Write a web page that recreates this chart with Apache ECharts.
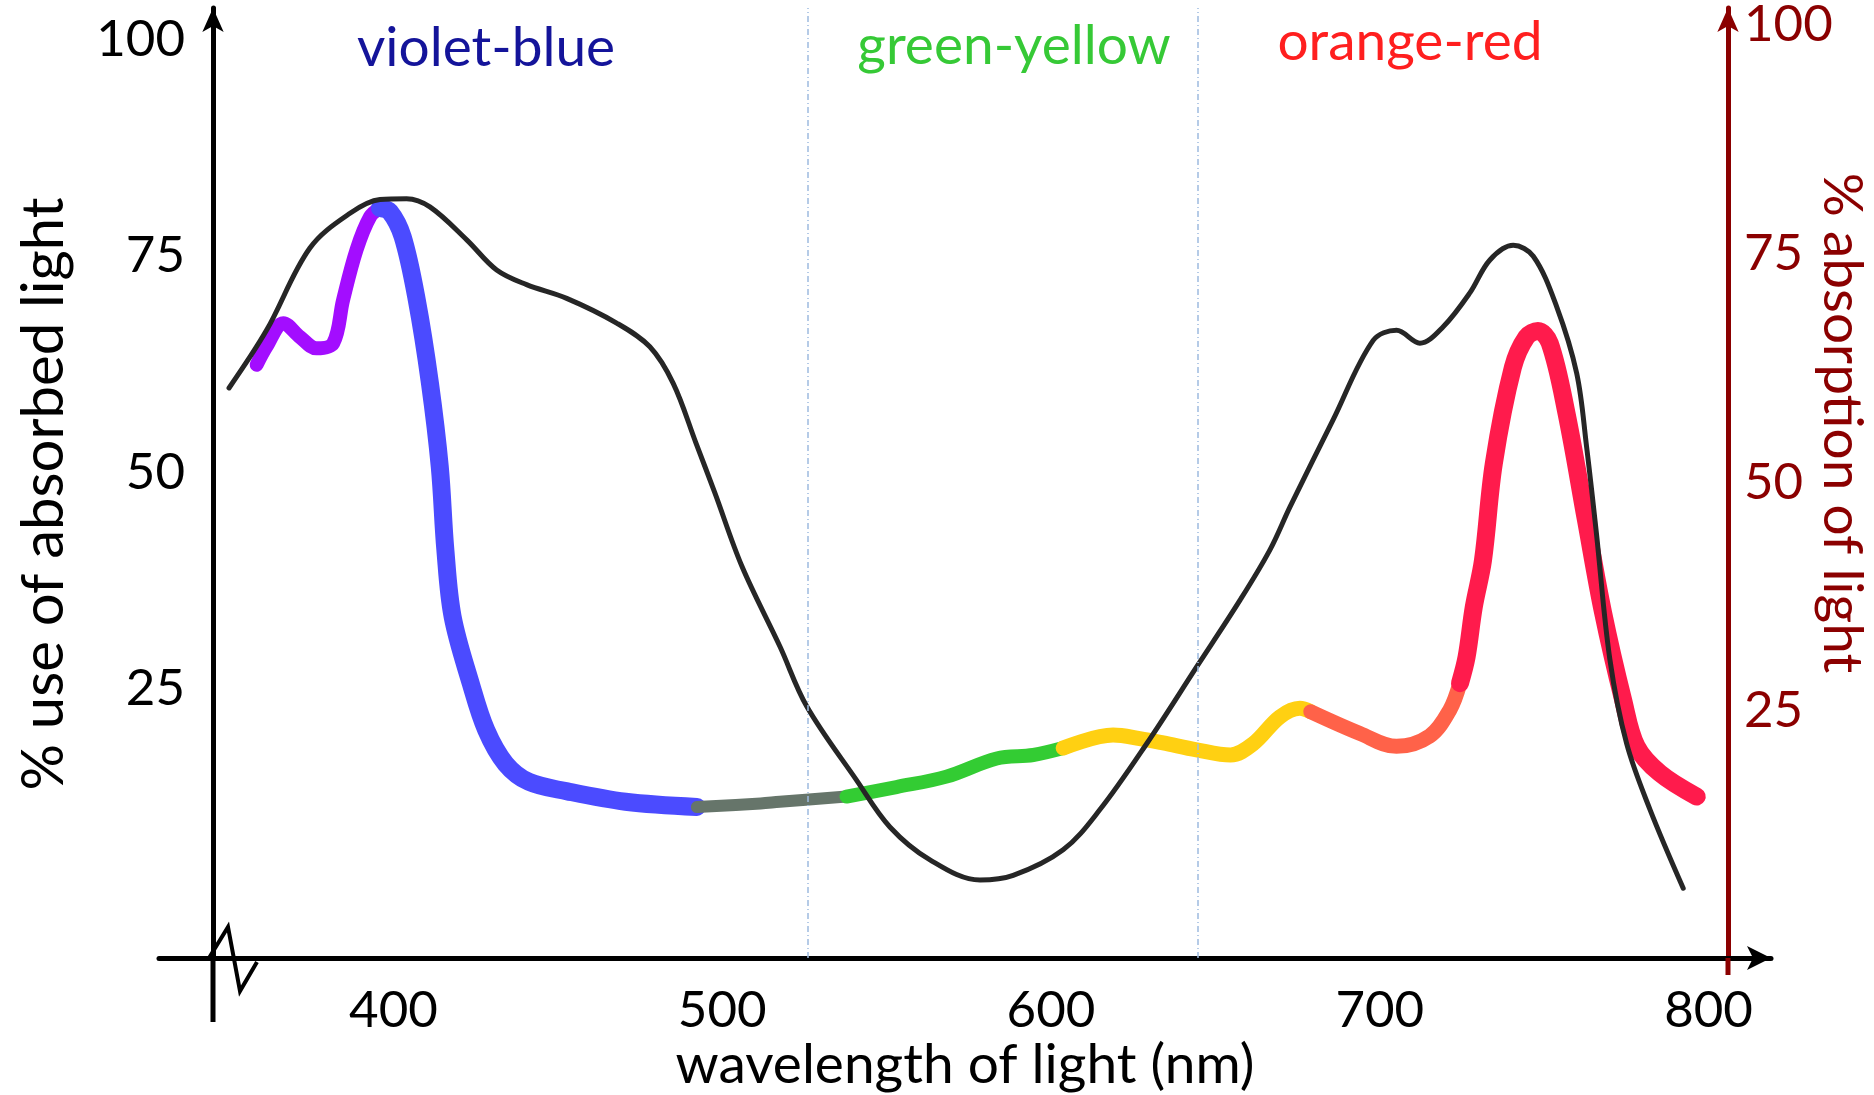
<!DOCTYPE html>
<html>
<head>
<meta charset="utf-8">
<title>Absorption and use of light</title>
<script src="https://cdn.jsdelivr.net/npm/echarts@6/dist/echarts.min.js"></script>
<style>
  html, body { margin: 0; padding: 0; background: #fff; }
  #chart { width: 1874px; height: 1095px; }
</style>
</head>
<body>
<div id="chart"></div>
<script>
// tick labels
const wavelengthTicks = [400, 500, 600, 700, 800]
const percentTicks = [25, 50, 75, 100]

// % absorption of light (black curve, right axis)
const absWavelength = [350, 361.4, 374.6, 386.8, 395.9, 404.0, 411.1, 422.3, 431.4, 440.5,
  452.7, 467.9, 478.0, 485.1, 492.0, 497.8, 506.0, 517.6, 525.7, 540.9,
  551.0, 563.2, 578.4, 588.5, 603.7, 614.9, 629.1, 644.3, 657.5, 666.6,
  672.7, 685.8, 698.0, 705.1, 712.2, 719.3, 727.4, 733.5, 740.6, 746.7,
  753.8, 759.9, 762.9, 765.9, 770.0, 775.1, 782.2, 792.3]
const absValue = [60.3, 66.6, 75.6, 79.4, 80.9, 81.0, 80.1, 76.5, 73.2, 71.6,
  70.1, 67.4, 64.8, 60.8, 54.3, 48.8, 40.8, 32.0, 25.5, 17.4,
  12.3, 8.7, 6.5, 7.0, 9.8, 14.2, 21.4, 29.8, 37.1, 42.6,
  47.3, 56.8, 65.5, 66.6, 65.2, 67.0, 70.7, 74.3, 75.9, 74.7,
  69.2, 61.9, 53.9, 44.4, 30.6, 21.4, 14.2, 5.6]

// % use of absorbed light (coloured curve, left axis)
const useWavelength = [358.4, 361.4, 366.5, 371.6, 376.6, 381.7, 384.7, 388.8, 392.9, 395.9,
  398.9, 402.8, 407.1, 411.1, 414.1, 415.8, 418.0, 423.5, 428.2, 434.1,
  441.2, 452.9, 470.6, 492.3, 511.7, 517.5, 537.8, 553.0, 568.2, 583.5,
  594.6, 603.7, 618.9, 627.0, 634.1, 644.3, 654.6, 661.5, 669.6, 675.7,
  679.0, 693.9, 705.1, 715.2, 721.3, 724.4, 726.4, 728.6, 731.4, 734.7,
  740.5, 744.6, 748.1, 751.7, 756.8, 762.7, 767.9, 774.0, 778.1, 785.2,
  796.4]
const useValue = [62.4, 64.5, 67.2, 65.6, 64.3, 64.9, 69.9, 75.7, 79.5, 80.5,
  80.1, 77.2, 69.9, 60.3, 50.6, 41.0, 33.3, 25.6, 20.2, 16.3,
  14.2, 13.1, 11.9, 11.3, 11.7, 11.9, 12.5, 13.6, 14.8, 16.9,
  17.3, 18.1, 19.6, 19.2, 18.7, 17.9, 17.3, 18.6, 21.7, 22.7,
  22.3, 19.8, 18.3, 19.5, 22.5, 25.6, 28.6, 34.4, 39.8, 51.0,
  62.1, 65.6, 66.3, 64.9, 56.8, 44.5, 33.8, 23.7, 18.3, 15.2,
  12.5]

// colour bands of the coloured curve: last wavelength of each band
const bandEnds = [395.9, 492.3, 537.8, 603.7, 679.0, 724.4, 796.4]
const bandColors = ['#a30dff', '#4b4bff', '#66756a', '#33cc33', '#ffd012', '#ff6249', '#ff1b4c']
const bandWidths = [14, 18, 12, 14, 15, 15, 18]

// dotted borders between the colour regions (nm)
const regionBorders = [525.9, 644.5]
const regionNames = ['violet-blue', 'green-yellow', 'orange-red']

const FONT = 'Lato, "DejaVu Sans", sans-serif'
const DARK_RED = '#8b0000'

const chart = echarts.init(document.getElementById('chart'), null, { renderer: 'canvas' })

// one line series per colour band, sharing the end points
const bandSeries = bandEnds.map((end, i) => {
  const start = i === 0 ? -Infinity : bandEnds[i - 1]
  const pts = []
  useWavelength.forEach((w, j) => {
    if (w >= start && w <= end) pts.push([w, useValue[j]])
  })
  return {
    type: 'line',
    yAxisIndex: 0,
    data: pts,
    smooth: 0.35,
    symbol: 'none',
    silent: true,
    z: 2,
    lineStyle: { color: bandColors[i], width: bandWidths[i], cap: 'round', join: 'round' }
  }
})

const absSeries = {
  type: 'line',
  yAxisIndex: 1,
  data: absWavelength.map((w, i) => [w, absValue[i]]),
  smooth: 0.35,
  symbol: 'none',
  silent: true,
  z: 4,
  lineStyle: { color: '#262626', width: 5, cap: 'round', join: 'round' },
  markLine: {
    silent: true,
    symbol: 'none',
    label: { show: false },
    lineStyle: { color: '#9dbbe0', width: 1.5, type: [6, 3, 1, 3] },
    data: regionBorders.map(x => ({ xAxis: x }))
  }
}

// region name labels across the top
const regionLabelStyle = [
  { x: 486, y: 48, fill: '#14149a' },
  { x: 1014, y: 46, fill: '#36c936' },
  { x: 1410, y: 42, fill: '#ff1f1f' }
]

const option = {
  animation: false,
  backgroundColor: '#fff',
  grid: { left: 159, right: 103, top: 8, bottom: 137, containLabel: false, outerBoundsMode: 'none' },
  xAxis: {
    type: 'value',
    min: 328.7,
    max: 819.0,
    name: 'wavelength of light (nm)',
    nameLocation: 'middle',
    nameGap: 80,
    nameMoveOverlap: false,
    nameTextStyle: { color: '#000', fontSize: 55, fontFamily: FONT },
    axisLine: { onZero: false, symbol: ['none', 'arrow'], symbolSize: [18, 24], lineStyle: { color: '#000', width: 5 } },
    axisTick: { show: false },
    splitLine: { show: false },
    axisLabel: { customValues: wavelengthTicks, margin: 27, color: '#000', fontSize: 51, fontFamily: FONT }
  },
  yAxis: [
    {
      type: 'value',
      position: 'left',
      offset: -54,
      min: -6.16,
      max: 103.63,
      name: '% use of absorbed light',
      nameLocation: 'middle',
      nameRotate: 90,
      nameGap: 140,
      nameMoveOverlap: false,
      nameTextStyle: { color: '#000', fontSize: 58, fontFamily: FONT, padding: [0, 22, 0, 0] },
      axisLine: { onZero: false, symbol: ['none', 'arrow'], symbolSize: [16, 24], lineStyle: { color: '#000', width: 5 } },
      axisTick: { show: false },
      splitLine: { show: false },
      axisLabel: { customValues: percentTicks, margin: 28, color: '#000', fontSize: 51, fontFamily: FONT }
    },
    {
      type: 'value',
      position: 'right',
      offset: -43,
      min: -2.03,
      max: 101.85,
      name: '% absorption of light',
      nameLocation: 'middle',
      nameRotate: -90,
      nameGap: 86,
      nameMoveOverlap: false,
      nameTextStyle: { color: DARK_RED, fontSize: 55, fontFamily: FONT, padding: [0, 120, 0, 0] },
      axisLine: { onZero: false, symbol: ['none', 'arrow'], symbolSize: [16, 24], lineStyle: { color: DARK_RED, width: 5 } },
      axisTick: { show: false },
      splitLine: { show: false },
      axisLabel: { customValues: percentTicks, margin: 16, color: DARK_RED, fontSize: 51, fontFamily: FONT }
    }
  ],
  graphic: [
    ...regionNames.map((name, i) => ({
      type: 'text',
      x: regionLabelStyle[i].x,
      y: regionLabelStyle[i].y,
      style: { text: name, fill: regionLabelStyle[i].fill, fontSize: 55, fontFamily: FONT, textAlign: 'center', textVerticalAlign: 'middle' }
    })),
    // axis break mark and the axis stubs below the x axis
    { type: 'polyline', z: 10, shape: { points: [[209, 958], [228, 927], [240, 991], [257, 962]] }, style: { stroke: '#000', lineWidth: 4, fill: null } },
    { type: 'line', z: 10, shape: { x1: 213, y1: 958, x2: 213, y2: 1022 }, style: { stroke: '#000', lineWidth: 5 } },
    { type: 'line', z: 10, shape: { x1: 1728, y1: 958, x2: 1728, y2: 975 }, style: { stroke: DARK_RED, lineWidth: 5 } }
  ],
  series: [...bandSeries, absSeries]
}

chart.setOption(option)
</script>
</body>
</html>
